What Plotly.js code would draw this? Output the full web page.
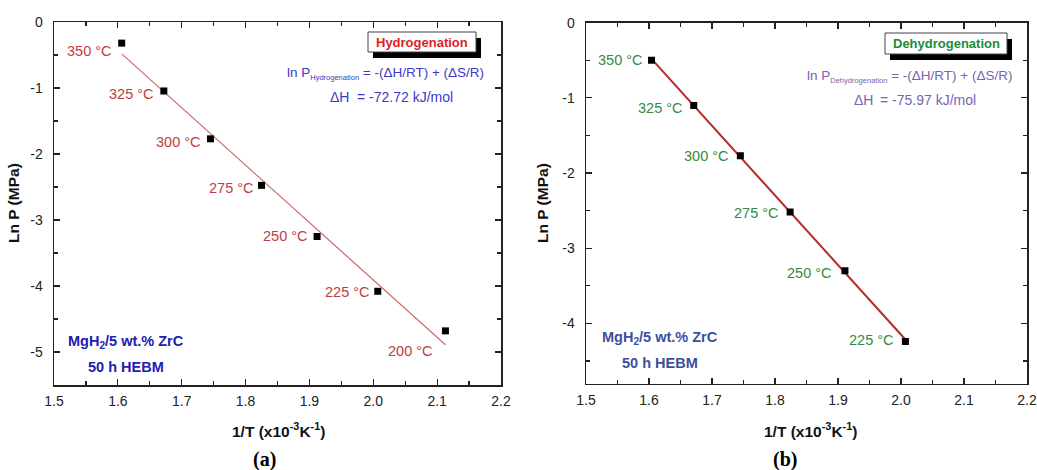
<!DOCTYPE html>
<html>
<head>
<meta charset="utf-8">
<script src="https://cdn.plot.ly/plotly-3.0.1.min.js"></script>
<style>html,body{margin:0;padding:0;background:#fff;}#chart{width:1037px;height:470px;}</style>
</head>
<body>
<div id="chart"></div>
<script>
// ---- data ----
const tempLabelsA = ["350 °C", "325 °C", "300 °C", "275 °C", "250 °C", "225 °C", "200 °C"];
const invTA = [1.606, 1.672, 1.745, 1.825, 1.912, 2.007, 2.113];
const lnPA = [-0.32, -1.045, -1.77, -2.475, -3.25, -4.08, -4.68];

const tempLabelsB = ["350 °C", "325 °C", "300 °C", "275 °C", "250 °C", "225 °C"];
const invTB = [1.604, 1.671, 1.745, 1.824, 1.911, 2.007];
const lnPB = [-0.50, -1.10, -1.77, -2.52, -3.30, -4.24];

const xTickVals = [1.5, 1.6, 1.7, 1.8, 1.9, 2.0, 2.1, 2.2];
const xTickText = ["1.5", "1.6", "1.7", "1.8", "1.9", "2.0", "2.1", "2.2"];
const yTickValsA = [0, -1, -2, -3, -4, -5];
const yTickTextA = ["0", "-1", "-2", "-3", "-4", "-5"];
const yTickValsB = [0, -1, -2, -3, -4];
const yTickTextB = ["0", "-1", "-2", "-3", "-4"];

const boxTitleA = "Hydrogenation";
const boxTitleB = "Dehydrogenation";
const dHA = "-72.72 kJ/mol";
const dHB = "-75.97 kJ/mol";
const sampleLine1 = "MgH<sub>2</sub>/5 wt.% ZrC";
const sampleLine2 = "50 h HEBM";

// ---- label offsets (style, pixels) ----
const labelShiftA = [[-8, -8], [-8, -3], [-7, -3], [-6, -3], [-7, 0], [-6, -1], [-10, -20]];
const labelShiftB = [[-7, 0], [-9, -3], [-9, 0], [-9, -1], [-11, -2], [-9, 1]];

// least-squares fit
function fit(x, y) {
  const n = x.length;
  const mx = x.reduce((a, b) => a + b, 0) / n;
  const my = y.reduce((a, b) => a + b, 0) / n;
  let sxy = 0, sxx = 0;
  for (let i = 0; i < n; i++) { sxy += (x[i] - mx) * (y[i] - my); sxx += (x[i] - mx) ** 2; }
  const b = sxy / sxx, a = my - b * mx;
  const x0 = Math.min(...x), x1 = Math.max(...x);
  return { x: [x0, x1], y: [a + b * x0, a + b * x1] };
}
const fitA = fit(invTA, lnPA);
const fitB = fit(invTB, lnPB);

const W = 1037, H = 470;
const px = v => v / W;
const py = v => 1 - v / H;

const FONT = "Liberation Sans, Arial, sans-serif";

const traces = [
  { x: fitA.x, y: fitA.y, mode: "lines", line: { color: "#c96a6a", width: 1.2 }, xaxis: "x", yaxis: "y", hoverinfo: "skip" },
  { x: invTA, y: lnPA, mode: "markers", marker: { symbol: "square", size: 7, color: "#000" }, xaxis: "x", yaxis: "y" },
  { x: fitB.x, y: fitB.y, mode: "lines", line: { color: "#b42a2a", width: 2 }, xaxis: "x2", yaxis: "y2", hoverinfo: "skip" },
  { x: invTB, y: lnPB, mode: "markers", marker: { symbol: "square", size: 7, color: "#000" }, xaxis: "x2", yaxis: "y2" }
];

function xAxis(domain, anchor) {
  return {
    domain: domain, anchor: anchor, range: [1.5, 2.2], tickmode: "array", tickvals: xTickVals, ticktext: xTickText,
    ticks: "inside", ticklen: 6, tickwidth: 1.2, tickcolor: "#222",
    minor: { dtick: 0.05, tick0: 1.5, ticks: "inside", ticklen: 4, tickcolor: "#222", tickwidth: 1.2 },
    showline: true, linecolor: "#222", linewidth: 1.5, mirror: "allticks",
    showgrid: false, zeroline: false, automargin: false,
    tickfont: { family: FONT, size: 14, color: "#222" }, ticklabelstandoff: 3
  };
}
function yAxis(domain, anchor, range, tv, tt) {
  return {
    domain: domain, anchor: anchor, range: range, tickmode: "array", tickvals: tv, ticktext: tt,
    ticks: "inside", ticklen: 6, tickwidth: 1.2, tickcolor: "#222",
    minor: { dtick: 0.5, tick0: 0, ticks: "inside", ticklen: 4, tickcolor: "#222", tickwidth: 1.2 },
    showline: true, linecolor: "#222", linewidth: 1.5, mirror: "allticks",
    showgrid: false, zeroline: false, automargin: false,
    tickfont: { family: FONT, size: 14, color: "#222" }, ticklabelstandoff: 7
  };
}

const annotations = [];
function ann(o) { annotations.push(Object.assign({ showarrow: false, xanchor: "center", yanchor: "middle", font: { family: FONT, size: 13, color: "#222" } }, o)); }

tempLabelsA.forEach((t, i) => ann({ x: invTA[i], y: lnPA[i], xref: "x", yref: "y", text: t, xanchor: "right", yanchor: "middle",
  xshift: labelShiftA[i][0], yshift: labelShiftA[i][1], font: { family: FONT, size: 14.5, color: "#c23c3c" } }));
tempLabelsB.forEach((t, i) => ann({ x: invTB[i], y: lnPB[i], xref: "x2", yref: "y2", text: t, xanchor: "right", yanchor: "middle",
  xshift: labelShiftB[i][0], yshift: labelShiftB[i][1], font: { family: FONT, size: 14.5, color: "#348a44" } }));

// box titles
ann({ xref: "paper", yref: "paper", x: px(422), y: py(42), text: "<b>" + boxTitleA + "</b>", font: { family: FONT, size: 13, color: "#e01e1e" } });
ann({ xref: "paper", yref: "paper", x: px(946), y: py(43.5), text: "<b>" + boxTitleB + "</b>", font: { family: FONT, size: 13, color: "#1e8a3c" } });

// equations
const eqColA = "#3a3ac4", eqColB = "#7a62b0";
ann({ xref: "paper", yref: "paper", x: px(486), y: py(73), xanchor: "right", text: "ln P<sub><span style=\"font-size:7.5px\">Hydrogenation</span></sub> = -(ΔH/RT) + (ΔS/R)", font: { family: FONT, size: 13.5, color: eqColA } });
ann({ xref: "paper", yref: "paper", x: px(328), y: py(97), xanchor: "left", text: "ΔH", font: { family: FONT, size: 14, color: eqColA } });
ann({ xref: "paper", yref: "paper", x: px(355), y: py(97), xanchor: "left", text: "= " + dHA, font: { family: FONT, size: 14, color: eqColA } });
ann({ xref: "paper", yref: "paper", x: px(1014), y: py(76), xanchor: "right", text: "ln P<sub><span style=\"font-size:7.5px\">Dehydrogenation</span></sub> = -(ΔH/RT) + (ΔS/R)", font: { family: FONT, size: 13.5, color: eqColB } });
ann({ xref: "paper", yref: "paper", x: px(852), y: py(99.5), xanchor: "left", text: "ΔH", font: { family: FONT, size: 14, color: eqColB } });
ann({ xref: "paper", yref: "paper", x: px(878), y: py(99.5), xanchor: "left", text: "= " + dHB, font: { family: FONT, size: 14, color: eqColB } });

// sample info
ann({ xref: "paper", yref: "paper", x: px(126), y: py(342), text: "<b>" + sampleLine1 + "</b>", font: { family: FONT, size: 14.5, color: "#2020b0" } });
ann({ xref: "paper", yref: "paper", x: px(126), y: py(367), text: "<b>" + sampleLine2 + "</b>", font: { family: FONT, size: 14.5, color: "#2020b0" } });
ann({ xref: "paper", yref: "paper", x: px(660), y: py(338), text: "<b>" + sampleLine1 + "</b>", font: { family: FONT, size: 14.5, color: "#3b509c" } });
ann({ xref: "paper", yref: "paper", x: px(660), y: py(363), text: "<b>" + sampleLine2 + "</b>", font: { family: FONT, size: 14.5, color: "#3b509c" } });

// axis titles
const xTitle = "<b>1/T (x10<sup>-3</sup>K<sup>-1</sup>)</b>";
const yTitle = "<b>Ln P (MPa)</b>";
ann({ xref: "paper", yref: "paper", x: px(278), y: py(430), text: xTitle, font: { family: FONT, size: 15.5, color: "#111" } });
ann({ xref: "paper", yref: "paper", x: px(810), y: py(430), text: xTitle, font: { family: FONT, size: 15.5, color: "#111" } });
ann({ xref: "paper", yref: "paper", x: px(13), y: py(203), text: yTitle, textangle: -90, font: { family: FONT, size: 15.5, color: "#111" } });
ann({ xref: "paper", yref: "paper", x: px(542), y: py(203), text: yTitle, textangle: -90, font: { family: FONT, size: 15.5, color: "#111" } });

// panel labels
ann({ xref: "paper", yref: "paper", x: px(264), y: py(459), text: "<b>(a)</b>", font: { family: "Liberation Serif, DejaVu Serif, serif", size: 20, color: "#000" } });
ann({ xref: "paper", yref: "paper", x: px(785), y: py(459), text: "<b>(b)</b>", font: { family: "Liberation Serif, DejaVu Serif, serif", size: 20, color: "#000" } });

// framed boxes with shadow
function boxShapes(x0, y0, x1, y1) {
  return [
    { type: "rect", xref: "paper", yref: "paper", x0: px(x0 + 5), x1: px(x1 + 5), y0: py(y1 + 6), y1: py(y0 + 6), fillcolor: "#000", line: { width: 0 }, layer: "above" },
    { type: "rect", xref: "paper", yref: "paper", x0: px(x0), x1: px(x1), y0: py(y1), y1: py(y0), fillcolor: "#fff", line: { color: "#444", width: 1 }, layer: "above" }
  ];
}
const shapes = [].concat(boxShapes(368, 32, 476, 52), boxShapes(885, 33, 1007, 54));

const layout = {
  width: W, height: H, margin: { l: 0, r: 0, t: 0, b: 0 },
  paper_bgcolor: "#fff", plot_bgcolor: "#fff", showlegend: false,
  xaxis: xAxis([px(54), px(501)], "y"),
  yaxis: yAxis([py(385), py(22)], "x", [-5.5, 0], yTickValsA, yTickTextA),
  xaxis2: xAxis([px(586), px(1027)], "y2"),
  yaxis2: yAxis([py(383.5), py(22.7)], "x2", [-4.8, 0], yTickValsB, yTickTextB),
  annotations: annotations, shapes: shapes
};

Plotly.newPlot("chart", traces, layout, { staticPlot: true, displayModeBar: false });
</script>
</body>
</html>
